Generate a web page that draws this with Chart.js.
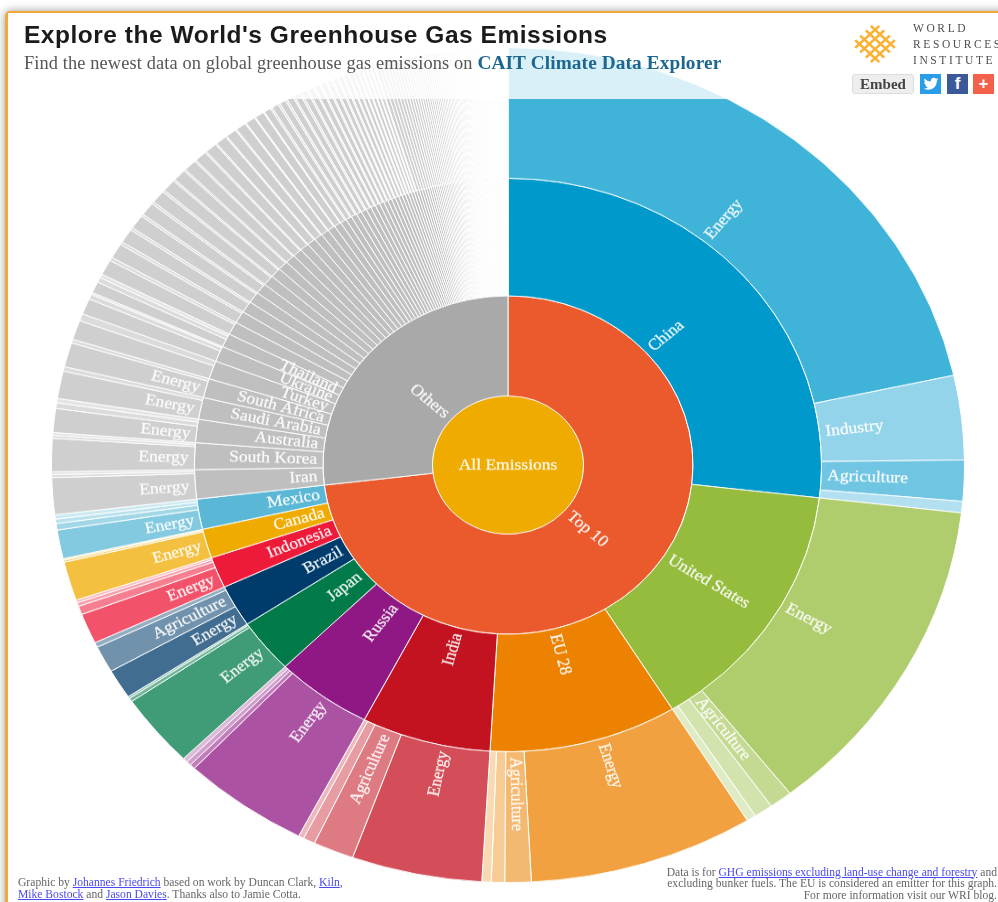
<!DOCTYPE html>
<html>
<head>
<meta charset="utf-8">
<title>Explore the World's Greenhouse Gas Emissions</title>
<script src="https://cdn.jsdelivr.net/npm/chart.js@4"></script>
<style>
html, body { margin: 0; height: 100%; overflow: hidden; background: #fff; }
#frame { position: absolute; left: 5px; top: 11px; width: 1100px; height: 1000px; border: 3px solid #f2a93b; border-top-width: 2px; border-radius: 5px; box-shadow: 0 0 10px rgba(0,0,0,.4); background: #fff; }
#sunburst { position: absolute; left: 42.5px; top: -0.5px; transform: scaleY(0.9146); transform-origin: center center; }
#veil { position: absolute; left: 8px; top: 13px; width: 990px; height: 86px; background: rgba(255,255,255,.8); }
h1 { position: absolute; left: 24px; top: 21px; margin: 0; font: bold 24.5px "Liberation Sans", Arial, sans-serif; letter-spacing: .52px; color: #1b1b1b; white-space: nowrap; }
#sub { position: absolute; left: 24px; top: 52px; font: 18.35px "Liberation Serif", Georgia, serif; color: #555; white-space: nowrap; letter-spacing: .12px; }
#sub b { color: #1c6690; font-size: 19.3px; }
.wri { position: absolute; left: 913px; font: 11.5px "Liberation Serif", serif; letter-spacing: 2.6px; color: #4d4d4d; white-space: nowrap; }
#embed { position: absolute; left: 852px; top: 74px; width: 62px; height: 20px; box-sizing: border-box; background: #eee; border: 1px solid #ddd; border-radius: 3px; font: bold 15px/18px "Liberation Serif", serif; color: #444; text-align: center; }
.share { position: absolute; top: 74px; width: 21px; height: 20px; color: #fff; font: bold 17px/20px "Liberation Sans", sans-serif; text-align: center; }
.note { position: absolute; font: 11.6px/12px "Liberation Serif", serif; color: #666; white-space: nowrap; }
.note a { color: #4a4af0; text-decoration: underline; }
</style>
</head>
<body>
<div id="frame"></div>
<canvas id="sunburst" width="930" height="930"></canvas>
<div id="veil"></div>
<h1>Explore the World's Greenhouse Gas Emissions</h1>
<div id="sub">Find the newest data on global greenhouse gas emissions on <b>CAIT Climate Data Explorer</b></div>
<svg style="position:absolute;left:850px;top:21px" width="50" height="46" viewBox="-25 -23 50 46">
  <g transform="scale(1,.92) rotate(45)" fill="none" stroke="#f8b334" stroke-width="2.600">
    <path d="M-17 -11H17M-17 -4H17M-17 4H17M-17 11H17M-11 -17V17M-4 -17V17M4 -17V17M11 -17V17"/>
  </g>
</svg>
<div class="wri" style="top:22px">WORLD</div>
<div class="wri" style="top:38px">RESOURCES</div>
<div class="wri" style="top:54px">INSTITUTE</div>
<div id="embed">Embed</div>
<div class="share" style="left:920px;background:#2b9ce8">
  <svg width="16" height="16" viewBox="0 0 24 24" style="margin-top:2px"><path fill="#fff" d="M23 4.900c-.8.4-1.700.6-2.600.7.9-.6 1.600-1.400 2-2.500-.9.5-1.800.9-2.900 1.100a4.500 4.500 0 0 0-7.800 3.100c0 .4 0 .7.1 1C8 8.100 4.700 6.300 2.500 3.600c-.4.7-.6 1.400-.6 2.300 0 1.600.8 3 2 3.800-.7 0-1.400-.2-2-.6v.1c0 2.200 1.600 4 3.600 4.400-.4.1-.8.2-1.200.2-.3 0-.6 0-.8-.1.6 1.800 2.200 3.100 4.200 3.100A9 9 0 0 1 1 18.600a12.800 12.800 0 0 0 6.900 2c8.300 0 12.800-6.900 12.800-12.800v-.6c.9-.6 1.700-1.400 2.300-2.300z"/></svg>
</div>
<div class="share" style="left:947px;background:#3b5998">f</div>
<div class="share" style="left:973px;background:#f4614a">+</div>
<div class="note" style="left:18px;top:877px">Graphic by <a>Johannes Friedrich</a> based on work by Duncan Clark, <a>Kiln</a>,<br><a>Mike Bostock</a> and <a>Jason Davies</a>. Thanks also to Jamie Cotta.</div>
<div class="note" style="right:1px;top:866.500px;text-align:right;line-height:11.500px">Data is for <a>GHG emissions excluding land-use change and forestry</a> and<br>excluding bunker fuels. The EU is considered an emitter for this graph.<br>For more information visit our WRI blog.</div>

<script>
// Named emitters, clockwise from the top
const countries = ['China', 'United States', 'EU 28', 'India', 'Russia', 'Japan', 'Brazil', 'Indonesia', 'Canada', 'Mexico',
    'Iran', 'South Korea', 'Australia', 'Saudi Arabia', 'South Africa', 'Turkey', 'Ukraine', 'Thailand'];

// Share of world emissions (%) by sector, one row per named emitter
const namedSectors = [
    [21.53, 3.25, 1.58, 0.44],
    [12.56, 0.81, 0.67, 0.33],
    [7.96, 0.93, 0.47, 0.33],
    [4.61, 1.44, 0.42, 0.19],
    [4.47, 0.19, 0.17, 0.17],
    [2.83, 0.14, 0.08],
    [1.14, 1.03, 0.19],
    [1.17, 0.33, 0.14, 0.11],
    [1.50, 0.08, 0.06],
    [1.11, 0.25, 0.17, 0.17],
    [1.42, 0.11, 0.11],
    [1.28, 0.11, 0.11],
    [0.92, 0.22, 0.17],
    [1.06, 0.17],
    [0.94, 0.14],
    [0.75, 0.28],
    [0.61, 0.19, 0.08],
    [0.44, 0.19, 0.14]
];

// Smaller emitters that carry no label, read off the spokes
const smallSectors = [
    [0.60, 0.13], [0.58, 0.11], [0.55, 0.10], [0.54, 0.09], [0.51, 0.09], [0.50, 0.08], [0.48, 0.07], [0.46, 0.07],
    [0.45, 0.06], [0.43, 0.06], [0.42, 0.05], [0.40, 0.05], [0.38, 0.05], [0.37, 0.04], [0.35, 0.04], [0.33, 0.04],
    [0.25, 0.07], [0.24, 0.07], [0.23, 0.07], [0.22, 0.06], [0.21, 0.07], [0.20, 0.06], [0.20, 0.05], [0.19, 0.05],
    [0.18, 0.05], [0.17, 0.05], [0.16, 0.05], [0.15, 0.05], [0.15, 0.04], [0.14, 0.04], [0.13, 0.04], [0.12, 0.04],
    [0.12, 0.035], [0.115, 0.035], [0.11, 0.035]
];
const tinySectors = [
    0.14, 0.135, 0.13, 0.125, 0.12, 0.115, 0.11, 0.105, 0.10, 0.098, 0.095, 0.092, 0.09, 0.087, 0.085, 0.082, 0.08,
    0.078, 0.075, 0.073, 0.07, 0.068, 0.066, 0.064, 0.062, 0.06, 0.058, 0.056, 0.054, 0.052, 0.05, 0.049, 0.048,
    0.047, 0.046, 0.045, 0.044, 0.043, 0.042, 0.041, 0.04, 0.039, 0.038, 0.037, 0.036, 0.035, 0.034, 0.033, 0.032,
    0.031, 0.03, 0.029, 0.028, 0.027, 0.026, 0.025, 0.024, 0.023, 0.022, 0.021, 0.02, 0.02, 0.02, 0.019, 0.019,
    0.019, 0.019, 0.019, 0.018, 0.018, 0.018, 0.018, 0.018, 0.018, 0.017, 0.017, 0.017, 0.017, 0.017, 0.017, 0.017,
    0.016, 0.016, 0.016, 0.016, 0.016, 0.016, 0.016, 0.015, 0.015, 0.015, 0.015, 0.015, 0.015, 0.015, 0.015, 0.014,
    0.014, 0.014, 0.014, 0.014, 0.014, 0.014, 0.013, 0.013, 0.013, 0.013, 0.013, 0.013, 0.013, 0.012, 0.012, 0.012,
    0.012, 0.012, 0.012, 0.011, 0.011, 0.011, 0.011, 0.011, 0.011, 0.01, 0.01, 0.01, 0.01, 0.01, 0.01, 0.01
];

const topTenCount = 10;
const groupNames = ['Top 10', 'Others'];
const centerName = 'All Emissions';
const chinaOrder = ['Energy', 'Industry', 'Agriculture', 'Waste'];
const sectorOrder = ['Energy', 'Agriculture', 'Industry', 'Waste'];

// Colours
const countryRgb = ['0,153,204', '149,188,60', '236,130,0', '196,19,32', '143,24,132', '0,122,73', '0,60,107', '238,26,58', '240,171,0', '90,184,214'];
const otherRgb = '191,191,191';
const groupColors = ['#eb5a2d', '#a9a9a9'];
const centerColor = '#f0ab00';
const sectorAlpha = { Energy: 0.75, Industry: 0.42, Agriculture: 0.56, Waste: 0.3 };

// Rings (radius in px before the vertical squeeze)
const outerRadius = 456.5;
const ringWeights = [143, 128.5, 109.5, 75.5];
const sectorLabelMin = 0.78;
const countryLabelMin = 0.75;
const labelFont = '17.5px "Liberation Serif", Georgia, serif';
const labelInset = 6;

const sum = a => a.reduce((s, v) => s + v, 0);

// Every emitter as a list of sectors
const allSectors = [...namedSectors, ...smallSectors, ...tinySectors.map(v => [v])];
const rgbOf = i => i < topTenCount ? countryRgb[i] : otherRgb;
const orderOf = i => i === 0 ? chinaOrder : sectorOrder;

// Rings: parents are the sums of their children so the spokes line up
const sectorData = [], sectorColors = [], sectorLabels = [];
allSectors.forEach((row, i) => row.forEach((v, j) => {
    const name = orderOf(i)[j];
    sectorData.push(v);
    sectorColors.push('rgba(' + rgbOf(i) + ',' + sectorAlpha[name] + ')');
    sectorLabels.push(v >= sectorLabelMin ? name : '');
}));
const countryData = allSectors.map(sum);
const countryColors = allSectors.map((r, i) => 'rgb(' + rgbOf(i) + ')');
const countryLabels = allSectors.map((r, i) => countryData[i] >= countryLabelMin ? (countries[i] || '') : '');
const groupData = [sum(countryData.slice(0, topTenCount)), sum(countryData.slice(topTenCount))];

const ringLabels = [sectorLabels, countryLabels, groupNames, [centerName]];

// Text along the spokes, reading outwards on the right and inwards on the left
const spokeLabels = {
    id: 'spokeLabels',
    afterDatasetsDraw(chart) {
        const ctx = chart.ctx;
        ctx.save();
        ctx.font = labelFont;
        ctx.fillStyle = 'rgba(255,255,255,.92)';
        ctx.strokeStyle = 'rgba(255,255,255,.6)';
        ctx.lineWidth = 0.4;
        ctx.textBaseline = 'middle';
        const put = (text, x) => { ctx.fillText(text, x, 0); ctx.strokeText(text, x, 0); };
        ringLabels.forEach((labels, ring) => {
            chart.getDatasetMeta(ring).data.forEach((arc, i) => {
                if (!labels[i]) return;
                ctx.save();
                ctx.translate(arc.x, arc.y);
                if (ring === 3) {
                    ctx.textAlign = 'center';
                    put(labels[i], 0);
                } else {
                    const mid = (arc.startAngle + arc.endAngle) / 2;
                    const right = Math.cos(mid) >= 0;
                    ctx.rotate(right ? mid : mid + Math.PI);
                    ctx.textAlign = right ? 'left' : 'right';
                    const r = arc.innerRadius + labelInset;
                    put(labels[i], right ? r : -r);
                }
                ctx.restore();
            });
        });
        ctx.restore();
    }
};

new Chart(document.getElementById('sunburst'), {
    type: 'doughnut',
    data: {
        datasets: [
            { data: sectorData, backgroundColor: sectorColors, weight: ringWeights[0] },
            { data: countryData, backgroundColor: countryColors, weight: ringWeights[1] },
            { data: groupData, backgroundColor: groupColors, weight: ringWeights[2] },
            { data: [100], backgroundColor: [centerColor], weight: ringWeights[3], borderWidth: 0 }
        ]
    },
    options: {
        responsive: false,
        animation: false,
        radius: outerRadius,
        cutout: 0,
        borderColor: '#fff',
        borderWidth: 1,
        layout: { padding: 0 },
        plugins: { legend: { display: false }, tooltip: { enabled: false } }
    },
    plugins: [spokeLabels]
});
</script>
</body>
</html>
